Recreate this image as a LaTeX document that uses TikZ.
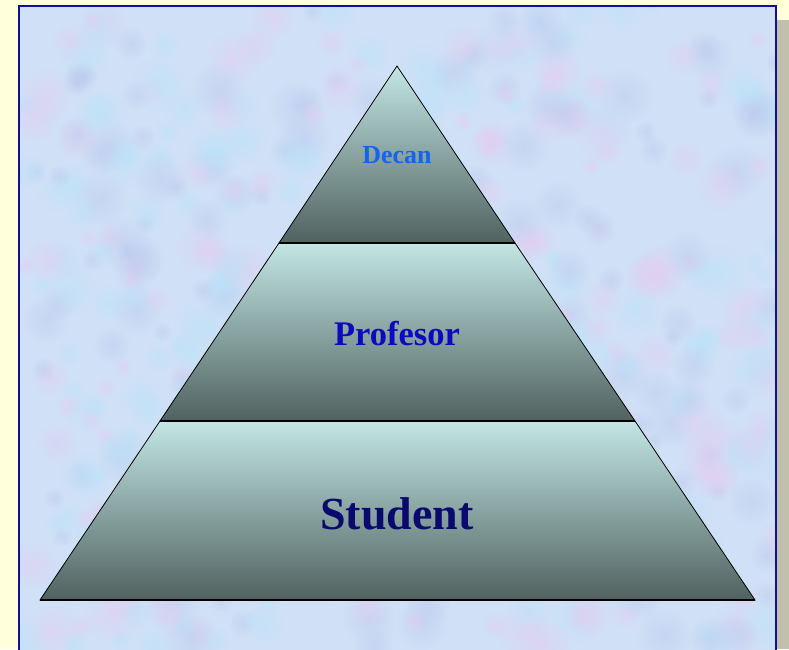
\documentclass[tikz,border=0pt]{standalone}
\usepackage{fontspec}
\setmainfont{Liberation Serif}
\usetikzlibrary{fadings}
\tikzfading[name=softblob, inner color=transparent!0, outer color=transparent!100]
\begin{document}
\begin{tikzpicture}[x=1pt,y=-1pt,
  lvl/.style={top color=cyanlight, bottom color=greydark, draw=black, line width=0.8pt},
  lbl/.style={font=\bfseries, anchor=center, inner sep=0pt},
  blob/.style={path fading=softblob, fill opacity=0.5}]
\definecolor{bgyellow}{HTML}{FFFFDC}
\definecolor{panel}{HTML}{D0E0F6}
\definecolor{panelborder}{HTML}{10109A}
\definecolor{shadowgrey}{HTML}{C0C0AC}
\definecolor{cyanlight}{HTML}{C2E6E4}
\definecolor{greydark}{HTML}{506260}
\definecolor{decanblue}{HTML}{1464F0}
\definecolor{profblue}{HTML}{0A0AC0}
\definecolor{studnavy}{HTML}{0A0A6E}
\definecolor{texpink}{HTML}{E6CCF0}
\definecolor{texcyan}{HTML}{B8E4FA}
\definecolor{texblue}{HTML}{BCCAEE}
\useasboundingbox (0,0) rectangle (789,649);
\fill[bgyellow] (0,0) rectangle (789,649);
\fill[shadowgrey] (777,20) rectangle (789,649);
\fill[panel] (19,6) rectangle (776,652);
% soft cloudy texture
\begin{scope}
\clip (19,6) rectangle (776,652);
\pgfmathsetseed{5}
\foreach \i in {1,...,520}{
  \pgfmathsetmacro{\px}{19+random(0,757)}
  \pgfmathsetmacro{\py}{6+random(0,646)}
  \pgfmathsetmacro{\pr}{10+random(0,18)}
  \pgfmathtruncatemacro{\pc}{random(1,3)}
  \ifcase\pc\or
    \fill[texpink, blob] (\px,\py) circle (\pr);
  \or
    \fill[texcyan, blob] (\px,\py) circle (\pr);
  \or
    \fill[texblue, blob] (\px,\py) circle (\pr);
  \fi
}
\end{scope}
\draw[panelborder, line width=2pt] (19,652) -- (19,6) -- (776,6) -- (776,652);
% pyramid
\coordinate (apex) at (397,66);
\coordinate (t1l) at (279,243);
\coordinate (t1r) at (515,243);
\coordinate (t2l) at (160,421);
\coordinate (t2r) at (635,421);
\coordinate (bl) at (40,600);
\coordinate (br) at (755,600);
\shade[lvl] (apex) -- (t1r) -- (t1l) -- cycle;
\shade[lvl] (t1l) -- (t1r) -- (t2r) -- (t2l) -- cycle;
\shade[lvl] (t2l) -- (t2r) -- (br) -- (bl) -- cycle;
\draw[black, line width=1.6pt] (t1l) -- (t1r);
\draw[black, line width=1.6pt] (t2l) -- (t2r);
\draw[black, line width=1.6pt] (bl) -- (br);
\node[lbl, text=decanblue, font=\bfseries\fontsize{26}{30}\selectfont] (decan) at (397,155) {Decan};
\node[lbl, text=profblue, font=\bfseries\fontsize{34.5}{40}\selectfont] (prof) at (397,334) {Profesor};
\node[lbl, text=studnavy, font=\bfseries\fontsize{46}{52}\selectfont] (stud) at (397,514) {Student};
\end{tikzpicture}
\end{document}
